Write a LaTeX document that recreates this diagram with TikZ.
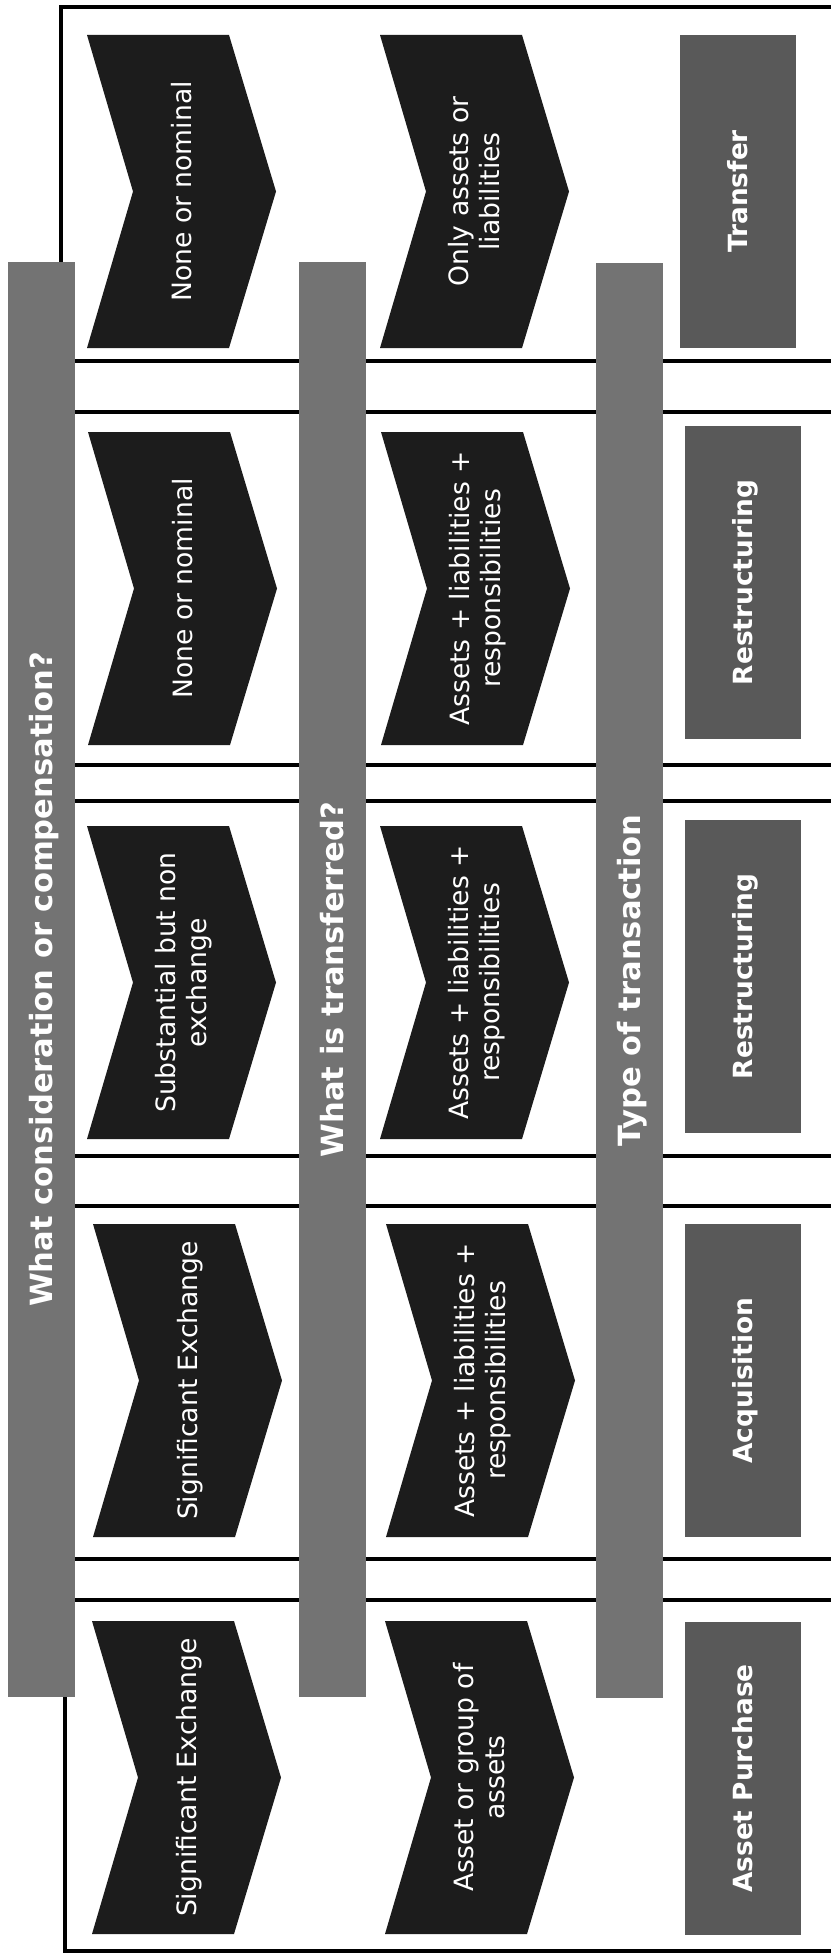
\documentclass[tikz,border=0pt]{standalone}
\usepackage{fontspec}
\setmainfont{DejaVu Sans}
\usetikzlibrary{calc}
\definecolor{chevcol}{HTML}{1C1C1C}
\definecolor{barcol}{HTML}{737373}
\definecolor{labcol}{HTML}{595959}
\newcommand\lstrut{\rule[-0.236em]{0pt}{1.164em}}
\newcommand\mychev[4]{%
  \fill[chevcol] (#2,#3) -- ++(142,0) -- ++(47,156.5) -- ++(-47,156.5) -- ++(-142,0) -- ++(46,-156.5) -- cycle;
  \node[chevtext] (#1) at (#2+95,#3+156.5) {#4};
}
\newcommand\mylab[4]{%
  \fill[labcol] (#2,#3) rectangle (#2+116,#3+313);
  \node[labtext] (#1) at (#2+58,#3+156.5) {\lstrut #4};
}
\newcommand\mybar[4]{%
  \fill[barcol] (#2,#3) rectangle (#2+67,#3+1435);
  \node[titletext] (#1) at (#2+33.5,#3+717.5) {\lstrut #4};
}
\begin{document}
\begin{tikzpicture}[x=1pt,y=-1pt,
  rowline/.style={draw=black,line width=3.5pt},
  chevtext/.style={text=white,rotate=90,align=center,inner sep=0pt,font=\fontsize{26.6}{31}\selectfont},
  labtext/.style={text=white,rotate=90,inner sep=0pt,font=\fontsize{26.4}{31}\selectfont\bfseries},
  titletext/.style={text=white,rotate=90,inner sep=0pt,font=\fontsize{30.6}{36}\selectfont\bfseries}]
\useasboundingbox (0,0) rectangle (830,1953);
\fill[white] (0,0) rectangle (830,1953);
% rows
\draw[rowline] (61,7) rectangle (870,361);
\draw[rowline] (62,412) rectangle (870,765);
\draw[rowline] (63,801) rectangle (870,1156);
\draw[rowline] (64,1206) rectangle (870,1559);
\draw[rowline] (65,1600) rectangle (870,1951);
% column 1
\mychev{c11}{87}{35}{\lstrut None or nominal}
\mychev{c12}{88}{432}{\lstrut None or nominal}
\mychev{c13}{87}{826}{\lstrut Substantial but non\\\lstrut exchange}
\mychev{c14}{93}{1224}{\lstrut Significant Exchange}
\mychev{c15}{92}{1621}{\lstrut Significant Exchange}
% column 2
\mychev{c21}{380}{35}{\lstrut Only assets or\\\lstrut liabilities}
\mychev{c22}{381}{432}{\lstrut Assets + liabilities +\\\lstrut responsibilities}
\mychev{c23}{380}{826}{\lstrut Assets + liabilities +\\\lstrut responsibilities}
\mychev{c24}{386}{1224}{\lstrut Assets + liabilities +\\\lstrut responsibilities}
\mychev{c25}{385}{1621}{\lstrut Asset or group of\\\lstrut assets}
% column 3
\mylab{l1}{680}{35}{Transfer}
\mylab{l2}{685}{426}{Restructuring}
\mylab{l3}{685}{820}{Restructuring}
\mylab{l4}{685}{1224}{Acquisition}
\mylab{l5}{685}{1622}{Asset Purchase}
% bars
\mybar{b1}{8}{262}{What consideration or compensation?}
\mybar{b2}{299}{262}{What is transferred?}
\mybar{b3}{596}{263}{Type of transaction}
\end{tikzpicture}
\end{document}
